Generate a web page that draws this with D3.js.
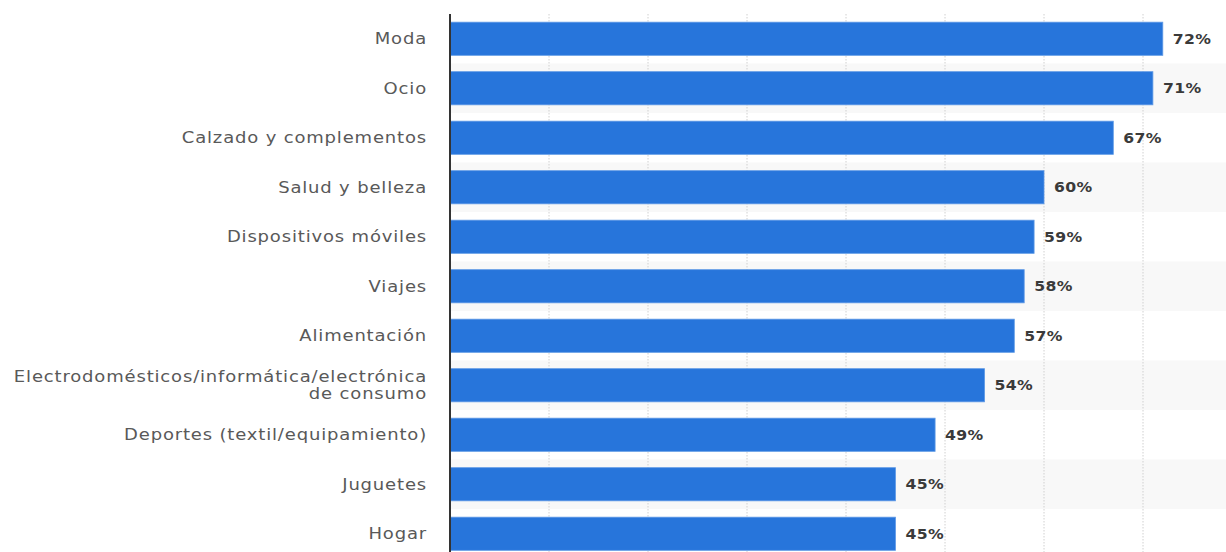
<!DOCTYPE html>
<html>
<head>
<meta charset="utf-8">
<script src="https://cdn.jsdelivr.net/npm/d3@7/dist/d3.min.js"></script>
<style>
  html, body { margin: 0; padding: 0; background: #fff; }
  svg { display: block; }
  .cat { font-family: "DejaVu Sans", Verdana, sans-serif; font-size: 15px; fill: #595959; letter-spacing: 0.7px; }
  .val { font-family: "DejaVu Sans", Verdana, sans-serif; font-size: 14px; font-weight: bold; fill: #3a3a3a; letter-spacing: 0.3px; }
</style>
</head>
<body>
<svg id="chart" width="1226" height="552"></svg>
<script>
// Categories (top to bottom) and their shares in percent
const categories = [
  ["Moda"],
  ["Ocio"],
  ["Calzado y complementos"],
  ["Salud y belleza"],
  ["Dispositivos móviles"],
  ["Viajes"],
  ["Alimentación"],
  ["Electrodomésticos/informática/electrónica", "de consumo"],
  ["Deportes (textil/equipamiento)"],
  ["Juguetes"],
  ["Hogar"]
];
const values = [72, 71, 67, 60, 59, 58, 57, 54, 49, 45, 45];
const gridTicks = [10, 20, 30, 40, 50, 60, 70];

const svg = d3.select("#chart");
const plotLeft = 450, plotTop = 14, rowH = 49.5;
const plotRight = 1226;
const catStretch = 1.2, valStretch = 1.12;

const keys = categories.map((c, i) => i);
const y = d3.scaleBand().domain(keys).range([plotTop, plotTop + rowH * keys.length]).paddingInner(0.33).paddingOuter(0.165);
const band = d3.scaleBand().domain(keys).range([plotTop, plotTop + rowH * keys.length]);
const x = d3.scaleLinear().domain([0, 10]).range([plotLeft, plotLeft + 99]);

// alternating row shading
svg.append("g").selectAll("rect").data(keys.filter(i => i % 2 === 1)).join("rect")
  .attr("x", plotLeft).attr("width", plotRight - plotLeft)
  .attr("y", i => band(i)).attr("height", band.bandwidth())
  .attr("fill", "#f8f8f8");

// dotted vertical gridlines
svg.append("g").selectAll("line").data(gridTicks).join("line")
  .attr("x1", d => x(d)).attr("x2", d => x(d))
  .attr("y1", plotTop).attr("y2", 552)
  .attr("stroke", "#d0d0d0").attr("stroke-width", 1)
  .attr("stroke-dasharray", "1.5,1.5");

// bars
svg.append("g").selectAll("rect").data(keys).join("rect")
  .attr("x", plotLeft).attr("y", i => y(i))
  .attr("width", i => x(values[i]) - plotLeft)
  .attr("height", y.bandwidth())
  .attr("fill", "#2775db")
  .attr("stroke", "#5f9ae6").attr("stroke-width", 0.8);

// value labels
svg.append("g").selectAll("text").data(keys).join("text")
  .attr("class", "val")
  .attr("transform", i => `translate(${x(values[i]) + 10},${y(i) + y.bandwidth() / 2}) scale(${valStretch},1)`)
  .attr("dy", "0.35em")
  .text(i => values[i] + "%");

// category labels
const lab = svg.append("g").selectAll("text").data(keys).join("text")
  .attr("class", "cat")
  .attr("text-anchor", "end")
  .attr("transform", i => `translate(${plotLeft - 23},${y(i) + y.bandwidth() / 2}) scale(${catStretch},1)`);
lab.each(function(i) {
  const lines = categories[i];
  const t = d3.select(this);
  lines.forEach((ln, k) => {
    t.append("tspan")
      .attr("x", 0)
      .attr("dy", k === 0 ? (0.35 - (lines.length - 1) * 0.55) + "em" : "1.1em")
      .text(ln);
  });
});

// vertical axis line
svg.append("line")
  .attr("x1", plotLeft).attr("x2", plotLeft)
  .attr("y1", plotTop).attr("y2", 552)
  .attr("stroke", "#333").attr("stroke-width", 2);
</script>
</body>
</html>
